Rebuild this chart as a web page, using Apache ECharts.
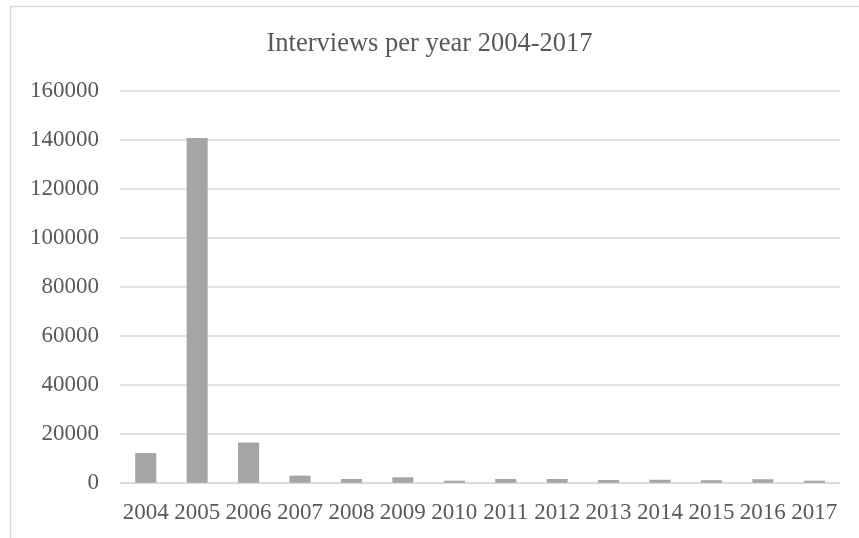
<!DOCTYPE html>
<html>
<head>
<meta charset="utf-8">
<script src="https://cdn.jsdelivr.net/npm/echarts@6/dist/echarts.min.js"></script>
<style>
html,body{margin:0;padding:0;background:#fff;}
#chart{width:859px;height:538px;}
</style>
</head>
<body>
<div id="chart"></div>
<script>
var titleText = 'Interviews per year 2004-2017';
var years = ['2004','2005','2006','2007','2008','2009','2010','2011','2012','2013','2014','2015','2016','2017'];
var interviews = [12100, 140700, 16400, 2900, 1500, 2200, 800, 1500, 1500, 1100, 1200, 1000, 1400, 800];
var yMin = 0, yMax = 160000, yStep = 20000;

var chart = echarts.init(document.getElementById('chart'), null, {renderer: 'canvas'});
var font = '"Liberation Serif", "Times New Roman", serif';
chart.setOption({
  animation: false,
  backgroundColor: '#ffffff',
  graphic: [{
    type: 'rect',
    shape: {x: 10.5, y: 6.5, width: 900, height: 600},
    style: {fill: 'none', stroke: '#d9d9d9', lineWidth: 1.5},
    silent: true
  }],
  title: {
    text: titleText,
    left: 'center',
    top: 26,
    textStyle: {fontFamily: font, fontSize: 26.5, fontWeight: 'normal', color: '#595959'}
  },
  grid: {left: 120, right: 19, top: 90.7, bottom: 55.3, containLabel: false},
  xAxis: {
    type: 'category',
    data: years,
    axisLine: {show: true, lineStyle: {color: '#d9d9d9', width: 1.5}},
    axisTick: {show: false},
    axisLabel: {fontFamily: font, fontSize: 23, color: '#595959', margin: 19, interval: 0}
  },
  yAxis: {
    type: 'value',
    min: yMin, max: yMax, interval: yStep,
    axisLine: {show: false},
    axisTick: {show: false},
    splitLine: {lineStyle: {color: '#d9d9d9', width: 1.5}},
    axisLabel: {fontFamily: font, fontSize: 23, color: '#595959', margin: 21,
      formatter: function (v) { return String(v); }}
  },
  series: [{
    type: 'bar',
    data: interviews,
    barCategoryGap: '59%',
    itemStyle: {color: '#a5a5a5'}
  }]
});
</script>
</body>
</html>
